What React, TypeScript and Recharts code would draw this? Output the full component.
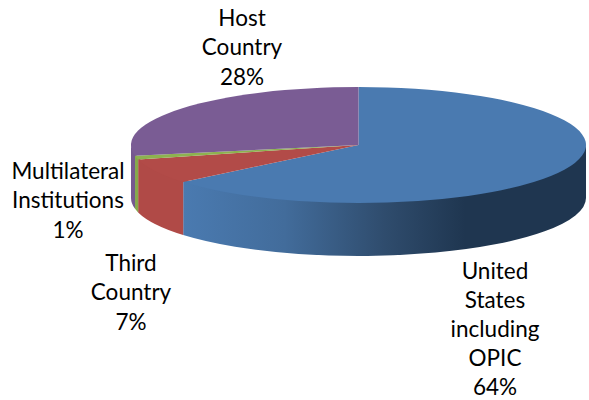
import React from "react";
import { PieChart, Pie, Cell } from "recharts";

const categories = ["United States including OPIC", "Third Country", "Multilateral Institutions", "Host Country"];
const shares = [64, 7, 1, 28];
const labelLines = [["United", "States", "including", "OPIC"], ["Third", "Country"], ["Multilateral", "Institutions"], ["Host", "Country"]];

const topColors = ["#4A7AB0", "#B24B48", "#8DB24F", "#7A5C94"];
const wallColors = ["url(#blueWall)", "#B04A47", "#86A94B", "#75598F"];

const labelAnchors = [
  { x: 495, y: 270.5, leading: 29 },
  { x: 131, y: 262, leading: 29.5 },
  { x: 68, y: 170, leading: 29.5 },
  { x: 242, y: 17, leading: 29.5 },
];

const SQUASH = 0.255;
const DEPTH = 53;

const data = categories.map((name, i) => ({ name, value: shares[i] }));

function Slice3D(props: any) {
  const { cx, cy, outerRadius, startAngle, endAngle, index } = props;
  const rx = outerRadius;
  const ry = outerRadius * SQUASH;
  const t0 = 90 - startAngle;
  const t1 = 90 - endAngle;
  const pt = (t: number, dy = 0) => {
    const r = (t * Math.PI) / 180;
    return `${cx + rx * Math.sin(r)} ${cy - ry * Math.cos(r) + dy}`;
  };
  const top = `M ${cx} ${cy} L ${pt(t0)} A ${rx} ${ry} 0 ${t1 - t0 > 180 ? 1 : 0} 1 ${pt(t1)} Z`;
  const w0 = Math.max(t0, 90);
  const w1 = Math.min(t1, 270);
  const wall =
    w1 > w0
      ? `M ${pt(w0, -2)} A ${rx} ${ry} 0 0 1 ${pt(w1, -2)} L ${pt(w1, DEPTH)} A ${rx} ${ry} 0 0 0 ${pt(w0, DEPTH)} Z`
      : null;
  return (
    <g>
      {wall && <path d={wall} fill={wallColors[index]} />}
      <path d={top} fill={topColors[index]} />
    </g>
  );
}

function renderLabel(props: any) {
  const { index, percent } = props;
  const a = labelAnchors[index];
  const lines = [...labelLines[index], `${Math.round(percent * 100)}%`];
  return (
    <text
      x={a.x}
      y={a.y}
      textAnchor="middle"
      fill="#000"
      style={{ fontFamily: "Lato, sans-serif", fontSize: 22.5 }}
    >
      {lines.map((l, i) => (
        <tspan key={i} x={a.x} y={a.y + i * a.leading} dominantBaseline="central">
          {l}
        </tspan>
      ))}
    </text>
  );
}

export default function App() {
  return (
    <div style={{ position: "absolute", left: 0, top: 0, width: 589, height: 400, background: "#fff" }}>
      <PieChart width={589} height={400} margin={{ top: 0, right: 0, bottom: 0, left: 0 }}>
        <defs>
          <linearGradient id="blueWall" gradientUnits="userSpaceOnUse" x1="184" y1="0" x2="586" y2="0">
            <stop offset="0" stopColor="#4A7AB0" />
            <stop offset="0.25" stopColor="#426C9B" />
            <stop offset="0.5" stopColor="#2F4C6D" />
            <stop offset="0.7" stopColor="#1F3650" />
            <stop offset="1" stopColor="#1F3650" />
          </linearGradient>
        </defs>
        <Pie
          data={data}
          dataKey="value"
          nameKey="name"
          cx={358.5}
          cy={145}
          innerRadius={0}
          outerRadius={227.5}
          startAngle={90}
          endAngle={-270}
          stroke="none"
          isAnimationActive={false}
          shape={Slice3D}
          label={renderLabel}
          labelLine={false}
        >
          {data.map((d, i) => (
            <Cell key={d.name} fill={topColors[i]} />
          ))}
        </Pie>
      </PieChart>
    </div>
  );
}
